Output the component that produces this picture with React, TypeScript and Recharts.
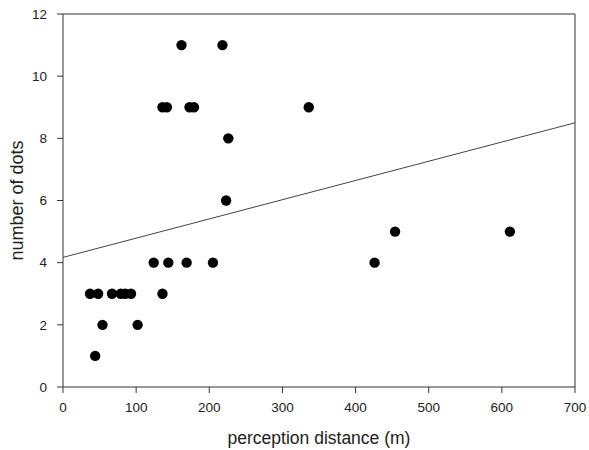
import { ScatterChart, Scatter, XAxis, YAxis, ReferenceLine, Label } from 'recharts'

const distance = [37, 48, 54, 44, 67, 79, 85, 93, 102, 124, 144, 136, 169, 205, 162, 218, 136, 142, 173, 179, 226, 223, 336, 454, 426, 611]
const dots = [3, 3, 2, 1, 3, 3, 3, 3, 2, 4, 4, 3, 4, 4, 11, 11, 9, 9, 9, 9, 8, 6, 9, 5, 4, 5]

const xTicks = [0, 100, 200, 300, 400, 500, 600, 700]
const yTicks = [0, 2, 4, 6, 8, 10, 12]

// fitted trend line, read at both ends of the x range
const trendX = [0, 700]
const trendY = [4.17, 8.5]

const points = distance.map((d, i) => ({ x: d, y: dots[i] }))

const font = 'Liberation Sans, Arial, sans-serif'
const axisColor = '#333'
const tickStyle = { fill: '#222', fontSize: 13.5, fontFamily: font }

const Dot = (props: any) => <circle cx={props.cx} cy={props.cy} r={5.2} fill="#000" />

export default function App() {
  return (
    <div style={{ position: 'absolute', left: 0, top: 0, background: '#fff' }}>
      <ScatterChart width={589} height={450} margin={{ top: 14, right: 14, bottom: 0, left: 0 }}>
        <XAxis
          type="number"
          dataKey="x"
          domain={[0, 700]}
          ticks={xTicks}
          height={63}
          tick={tickStyle}
          tickSize={6}
          tickMargin={9}
          stroke={axisColor}
        >
          <Label value="perception distance (m)" position="insideBottom" offset={6} style={{ fill: '#222', fontSize: 17.5, fontFamily: font }} />
        </XAxis>
        <YAxis
          type="number"
          dataKey="y"
          domain={[0, 12]}
          ticks={yTicks}
          width={63}
          tick={tickStyle}
          tickSize={6}
          tickMargin={10}
          stroke={axisColor}
        >
          <Label value="number of dots" angle={-90} position="insideLeft" offset={17} style={{ textAnchor: 'middle', fill: '#222', fontSize: 18, fontFamily: font }} />
        </YAxis>
        <ReferenceLine y={12} stroke={axisColor} ifOverflow="visible" />
        <ReferenceLine x={700} stroke={axisColor} ifOverflow="visible" />
        <ReferenceLine
          segment={[{ x: trendX[0], y: trendY[0] }, { x: trendX[1], y: trendY[1] }]}
          stroke="#444"
          strokeWidth={1}
          ifOverflow="visible"
        />
        <Scatter data={points} shape={Dot} isAnimationActive={false} />
      </ScatterChart>
    </div>
  )
}
